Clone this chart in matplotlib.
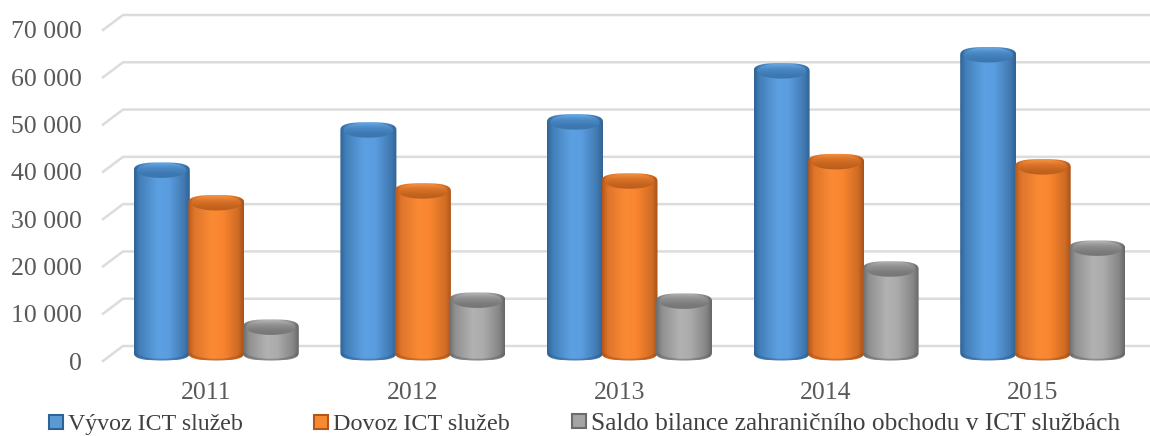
import numpy as np
import matplotlib
matplotlib.use("Agg")
import matplotlib.pyplot as plt
from matplotlib.colors import LinearSegmentedColormap
from matplotlib.lines import Line2D
from matplotlib.patches import PathPatch
from matplotlib.path import Path

years = ["2011", "2012", "2013", "2014", "2015"]
vyvoz = [38300, 46800, 48500, 59300, 62700]
dovoz = [31400, 33900, 36000, 40100, 39000]
saldo = [5100, 10800, 10600, 17400, 21800]
y_ticks = [0, 10000, 20000, 30000, 40000, 50000, 60000, 70000]
y_labels = ["0", "10 000", "20 000", "30 000", "40 000", "50 000", "60 000", "70 000"]
series_names = ["Vývoz ICT služeb", "Dovoz ICT služeb",
                "Saldo bilance zahraničního obchodu v ICT službách"]

W, H = 1150, 436
fig = plt.figure(figsize=(W / 100, H / 100), dpi=100)
plt.rcParams['font.family'] = ['Liberation Serif', 'DejaVu Serif']

# axes = front plane of the fake 3D box, 103..1136 px wide, y 30..361 px
ax = fig.add_axes([103 / W, 1 - 361 / H, 1033 / W, 331 / H])
ax.set_xlim(-0.5, 4.5)
ax.set_ylim(0, 70000)
ux = 1 / 206.6       # data units for one pixel
uy = 70000 / 331

# floor and wall lines
for t in y_ticks:
    ax.plot([-0.5, -0.5 + 20 * ux, 4.5 + 20 * ux], [t, t + 15 * uy, t + 15 * uy],
            color="#dcdcdc", lw=1.8, clip_on=False, zorder=1)

stops = [0, 0.1, 0.42, 0.62, 0.9, 1]
ramps = [
    ("#2f6396", "#437fb8", "#5ca0e2", "#5a9de0", "#4179b0", "#2f6396"),
    ("#b3561a", "#dd752a", "#fb8a35", "#f9852f", "#cf6c24", "#a8511a"),
    ("#6c6c6c", "#8f8f8f", "#b2b2b2", "#ababab", "#868686", "#676767"),
]
top_ramps = [
    ("#3a74ac", "#3f7ab4", "#4a8ac6", "#6eaae2"),
    ("#b85c1c", "#c4641f", "#dc7428", "#f39648"),
    ("#747474", "#7c7c7c", "#929292", "#bababa"),
]
edge_cols = ["#2b5b8a", "#9c4a14", "#5e5e5e"]


def outline(cx, top, base, rx, ry, p=0.7):
    a = np.linspace(0, np.pi, 40)
    xs = np.sign(np.cos(a)) * np.abs(np.cos(a)) ** p
    ys = np.sin(a) ** p
    px = np.r_[cx + rx * xs, cx - rx * xs]
    py = np.r_[top + ry * ys, base - ry * ys]
    return Path(np.c_[px, py], closed=False)


def draw_bar(x, value, k, z):
    rx = 28 * ux
    ry = 8.5 * uy
    base = 9 * uy
    top = base + value
    body = PathPatch(outline(x, top, base, rx, ry), fc="none", ec="none", transform=ax.transData)
    ax.add_patch(body)
    grad = np.linspace(0, 1, 128).reshape(1, -1)
    cmap = LinearSegmentedColormap.from_list("b", list(zip(stops, ramps[k])))
    im = ax.imshow(grad, cmap=cmap, extent=[x - rx, x + rx, base - ry, top + ry],
                   aspect="auto", zorder=z, interpolation="bilinear")
    im.set_clip_path(body)
    # dark rim along the bottom curve
    a = np.linspace(np.pi * 1.08, np.pi * 1.92, 30)
    ax.plot(x + rx * 0.96 * np.cos(a), base + ry * 0.92 * np.sin(a), color=edge_cols[k],
            lw=1.5, alpha=0.45, zorder=z + 0.05, solid_capstyle="round")
    # top face, with the light band under it
    f = outline(x, top + 0.5 * uy, top + 0.5 * uy, rx * 0.88, ry * 0.88, p=0.95)
    face = PathPatch(f, fc="none", ec="none", transform=ax.transData)
    ax.add_patch(face)
    vgrad = np.linspace(1, 0, 64).reshape(-1, 1)
    cmap2 = LinearSegmentedColormap.from_list("t", top_ramps[k])
    im2 = ax.imshow(vgrad, cmap=cmap2, origin="upper",
                    extent=[x - rx, x + rx, top - 8 * uy, top + 9 * uy],
                    aspect="auto", zorder=z + 0.1, interpolation="bilinear")
    im2.set_clip_path(face)


x_pos = np.arange(len(years))
z = 3
for i in x_pos:
    for k, vals in enumerate([vyvoz, dovoz, saldo]):
        draw_bar(i + 10 * ux + (k - 1) * 54.5 * ux, vals[i], k, z)
        z += 1

ax.set_xlim(-0.5, 4.5)
ax.set_ylim(0, 70000)
ax.set_xticks(x_pos, years)
ax.set_yticks(y_ticks, y_labels)
ax.tick_params(length=0, labelsize=18.5, labelcolor="#595959")
ax.tick_params(axis="y", pad=15)
ax.tick_params(axis="x", pad=15)
for s in ax.spines.values():
    s.set_visible(False)
ax.patch.set_visible(False)

marker_cols = [("#5b9bd5", "#2f6396"), ("#f58a32", "#b3561a"), ("#a5a5a5", "#6c6c6c")]
legend_left = [44, 309, 566]
legend_size = [17.2, 17.4, 18.3]
for name, (fc, ec), left, size in zip(series_names, marker_cols, legend_left, legend_size):
    h = Line2D([], [], ls="none", marker="s", ms=10, mfc=fc, mec=ec, mew=1.5)
    fig.legend([h], [name], loc="lower left", bbox_to_anchor=(left / W, 0.002),
               frameon=False, fontsize=size, labelcolor="#404040", borderpad=0,
               borderaxespad=0, handletextpad=0.0, handlelength=1.0)

fig.savefig("out.png", dpi=100)
